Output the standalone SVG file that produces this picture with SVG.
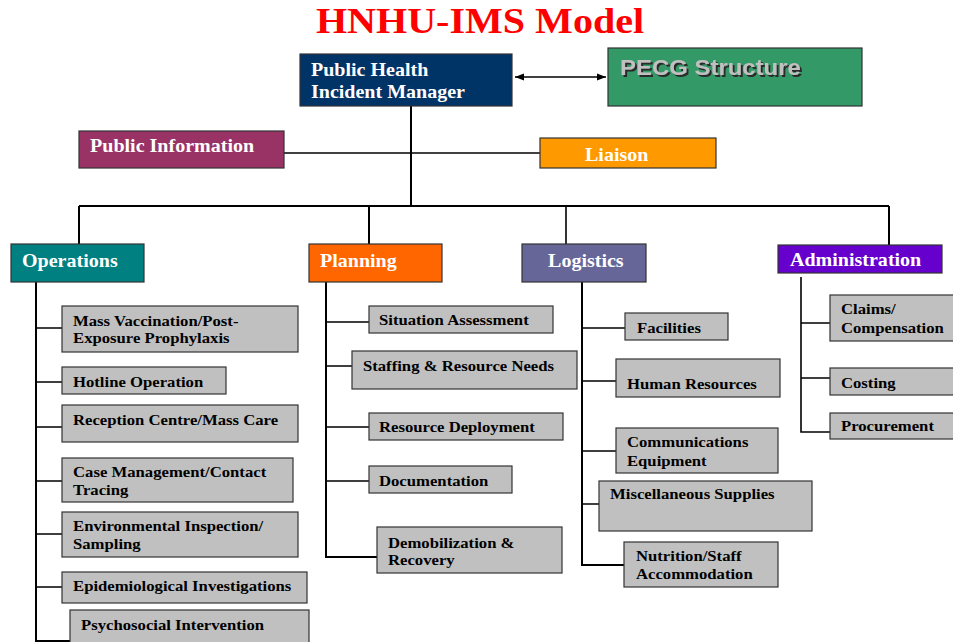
<svg xmlns="http://www.w3.org/2000/svg" width="953" height="642" viewBox="0 0 953 642">
  <defs>
    <marker id="ah" viewBox="0 0 10 10" refX="10" refY="5" markerWidth="9" markerHeight="9" markerUnits="userSpaceOnUse" orient="auto-start-reverse">
      <path d="M0,1 L10,5 L0,9 Z" fill="#000"/>
    </marker>
    <filter id="shade" x="-5%" y="-20%" width="115%" height="150%">
      <feDropShadow dx="1.8" dy="2" stdDeviation="0.5" flood-color="#2A2A2A" flood-opacity="1"/>
    </filter>
  </defs>
  <style>
    text { font-family: "Liberation Serif", "Times New Roman", serif; font-weight: bold; transform: scale(1.113, 1); }
    .title { font-size: 36px; fill: #FF0000; text-anchor: middle; }
    .head { font-size: 18px; fill: #FFFFFF; }
    .sub { font-size: 15px; fill: #000000; }
    .pecg { font-family: "Liberation Sans", Arial, sans-serif; font-size: 21.5px; fill: #C0C0C0; filter: url(#shade); }
    .box { stroke: #333333; stroke-width: 1.2; }
    .grey { fill: #C0C0C0; stroke: #333333; stroke-width: 1.2; }
    .wire { fill: none; stroke: #000000; stroke-width: 1.6; }
    .spine { fill: none; stroke: #000000; stroke-width: 2; }
  </style>
  <rect width="953" height="642" fill="#FFFFFF"/>

  <text class="title" x="431.3" y="33">HNHU-IMS Model</text>

  <!-- connectors -->
  <g id="connectors">
    <line class="wire" x1="515" y1="77" x2="606" y2="77" marker-start="url(#ah)" marker-end="url(#ah)"/>
    <path class="spine" d="M411 106 V206"/>
    <path class="wire" d="M284 153 H540"/>
    <path class="spine" d="M79 206 H889"/>
    <path class="spine" d="M79 206 V244 M369 206 V244 M889 206 V245"/>
    <path class="wire" d="M566 206 V244"/>
    <!-- operations -->
    <path class="spine" d="M36 282 V641 H70"/>
    <path class="wire" d="M36 328 H62 M36 382 H62 M36 427 H62 M36 481 H62 M36 534 H62 M36 587 H62"/>
    <!-- planning -->
    <path class="spine" d="M326 282 V557 H377"/>
    <path class="wire" d="M326 322 H369 M326 366 H352 M326 427 H369 M326 481 H369"/>
    <!-- logistics -->
    <path class="spine" d="M582 282 V565 H624"/>
    <path class="wire" d="M582 328 H625 M582 381 H616 M582 451 H616 M582 504 H599"/>
    <!-- administration -->
    <path class="wire" d="M801 277 V432 H830 M801 323 H830 M801 378 H830"/>
  </g>

  <!-- top level -->
  <g id="phim">
    <rect class="box" x="300" y="54" width="212" height="52" fill="#003366"/>
    <text class="head" x="279.4" y="76">Public Health</text>
    <text class="head" x="279.4" y="98">Incident Manager</text>
  </g>
  <g id="pecg">
    <rect class="box" x="608" y="48" width="254" height="58" fill="#339966"/>
    <text class="pecg" x="557.1" y="75">PECG Structure</text>
  </g>
  <g id="public-information">
    <rect class="box" x="79" y="131" width="205" height="37" fill="#993366"/>
    <text class="head" x="80.9" y="152">Public Information</text>
  </g>
  <g id="liaison">
    <rect class="box" x="540" y="138" width="176" height="30" fill="#FF9900"/>
    <text class="head" x="525.6" y="161">Liaison</text>
  </g>

  <!-- sections -->
  <g id="operations">
    <rect class="box" x="11" y="244" width="133" height="38" fill="#008080"/>
    <text class="head" x="19.8" y="267">Operations</text>
  </g>
  <g id="planning">
    <rect class="box" x="309" y="244" width="133" height="38" fill="#FF6600"/>
    <text class="head" x="287.5" y="267">Planning</text>
  </g>
  <g id="logistics">
    <rect class="box" x="522" y="244" width="124" height="38" fill="#666699"/>
    <text class="head" x="492.4" y="267">Logistics</text>
  </g>
  <g id="administration">
    <rect class="box" x="778" y="245" width="164" height="28" fill="#6600CC"/>
    <text class="head" x="709.8" y="266">Administration</text>
  </g>

  <!-- operations units -->
  <g id="ops-vaccination">
    <rect class="grey" x="62" y="306" width="236" height="46"/>
    <text class="sub" x="65.6" y="326">Mass Vaccination/Post-</text>
    <text class="sub" x="65.6" y="343">Exposure Prophylaxis</text>
  </g>
  <g id="ops-hotline">
    <rect class="grey" x="62" y="367" width="164" height="27"/>
    <text class="sub" x="65.6" y="387">Hotline Operation</text>
  </g>
  <g id="ops-reception">
    <rect class="grey" x="62" y="405" width="236" height="37"/>
    <text class="sub" x="65.6" y="425">Reception Centre/Mass Care</text>
  </g>
  <g id="ops-case">
    <rect class="grey" x="62" y="458" width="231" height="44"/>
    <text class="sub" x="65.6" y="477">Case Management/Contact</text>
    <text class="sub" x="65.6" y="495">Tracing</text>
  </g>
  <g id="ops-environmental">
    <rect class="grey" x="62" y="512" width="236" height="45"/>
    <text class="sub" x="65.6" y="531">Environmental Inspection/</text>
    <text class="sub" x="65.6" y="549">Sampling</text>
  </g>
  <g id="ops-epidemiological">
    <rect class="grey" x="62" y="572" width="245" height="31"/>
    <text class="sub" x="65.6" y="591">Epidemiological Investigations</text>
  </g>
  <g id="ops-psychosocial">
    <rect class="grey" x="70" y="610" width="239" height="34"/>
    <text class="sub" x="72.8" y="630">Psychosocial Intervention</text>
  </g>

  <!-- planning units -->
  <g id="plan-situation">
    <rect class="grey" x="369" y="306" width="184" height="27"/>
    <text class="sub" x="340.5" y="325">Situation Assessment</text>
  </g>
  <g id="plan-staffing">
    <rect class="grey" x="352" y="351" width="225" height="38"/>
    <text class="sub" x="326.1" y="371">Staffing &amp; Resource Needs</text>
  </g>
  <g id="plan-deployment">
    <rect class="grey" x="369" y="413" width="194" height="27"/>
    <text class="sub" x="340.5" y="432">Resource Deployment</text>
  </g>
  <g id="plan-documentation">
    <rect class="grey" x="369" y="466" width="143" height="27"/>
    <text class="sub" x="340.5" y="486">Documentation</text>
  </g>
  <g id="plan-demobilization">
    <rect class="grey" x="377" y="527" width="185" height="46"/>
    <text class="sub" x="348.6" y="548">Demobilization &amp;</text>
    <text class="sub" x="348.6" y="565">Recovery</text>
  </g>

  <!-- logistics units -->
  <g id="log-facilities">
    <rect class="grey" x="625" y="313" width="103" height="27"/>
    <text class="sub" x="572.3" y="333">Facilities</text>
  </g>
  <g id="log-hr">
    <rect class="grey" x="616" y="359" width="164" height="38"/>
    <text class="sub" x="563.3" y="389">Human Resources</text>
  </g>
  <g id="log-comms">
    <rect class="grey" x="616" y="428" width="162" height="45"/>
    <text class="sub" x="563.3" y="447">Communications</text>
    <text class="sub" x="563.3" y="466">Equipment</text>
  </g>
  <g id="log-misc">
    <rect class="grey" x="599" y="481" width="213" height="50"/>
    <text class="sub" x="548.1" y="499">Miscellaneous Supplies</text>
  </g>
  <g id="log-nutrition">
    <rect class="grey" x="624" y="542" width="154" height="45"/>
    <text class="sub" x="571.4" y="561">Nutrition/Staff</text>
    <text class="sub" x="571.4" y="579">Accommodation</text>
  </g>

  <!-- administration units -->
  <g id="adm-claims">
    <rect class="grey" x="830" y="295" width="130" height="46"/>
    <text class="sub" x="755.6" y="314">Claims/</text>
    <text class="sub" x="755.6" y="333">Compensation</text>
  </g>
  <g id="adm-costing">
    <rect class="grey" x="830" y="368" width="130" height="27"/>
    <text class="sub" x="755.6" y="388">Costing</text>
  </g>
  <g id="adm-procurement">
    <rect class="grey" x="830" y="413" width="130" height="26"/>
    <text class="sub" x="755.6" y="431">Procurement</text>
  </g>
</svg>
